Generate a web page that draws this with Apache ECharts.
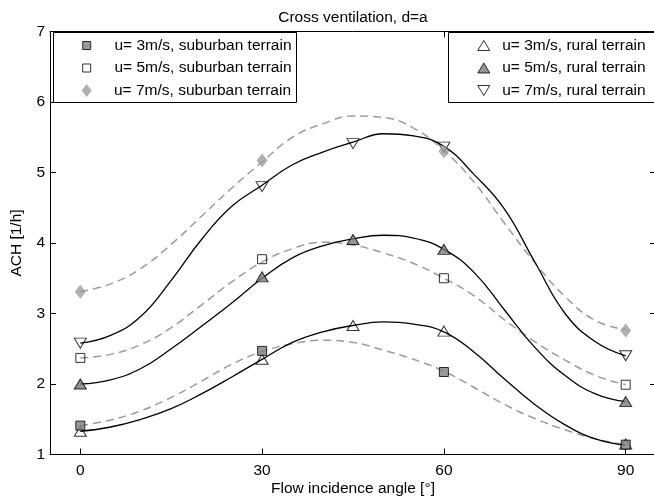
<!DOCTYPE html>
<html><head><meta charset="utf-8">
<script src="https://cdn.jsdelivr.net/npm/echarts@6/dist/echarts.min.js"></script>
<style>html,body{margin:0;padding:0;background:#fff}#c{width:654px;height:498px}</style>
</head><body><div id="c"></div>
<script>
// ---- data ----
const angleTicks = [0, 30, 60, 90];
const subAngles = [0, 30, 60, 90];
const ruralAngles = [0, 30, 45, 60, 90];
const sub3 = [1.41, 2.47, 2.17, 1.14];
const sub5 = [2.37, 3.77, 3.50, 1.99];
const sub7 = [3.31, 5.17, 5.30, 2.76];
const rur3 = [1.33, 2.35, 2.83, 2.75, 1.15];
const rur5 = [2.00, 3.52, 4.05, 3.91, 1.75];
const rur7 = [2.58, 4.80, 5.41, 5.36, 2.40];
const fitAngles = [0,5,10,15,20,25,30,35,40,45,50,55,60,65,70,75,80,85,90];
const fitSub3 = [1.41,1.49,1.62,1.81,2.04,2.28,2.46,2.57,2.62,2.59,2.48,2.35,2.18,1.95,1.71,1.51,1.35,1.22,1.14];
const fitSub5 = [2.37,2.42,2.56,2.80,3.12,3.45,3.73,3.92,4.01,3.97,3.86,3.71,3.50,3.25,2.91,2.60,2.34,2.12,1.99];
const fitSub7 = [3.31,3.42,3.64,3.98,4.38,4.78,5.15,5.50,5.69,5.80,5.78,5.63,5.31,4.86,4.28,3.72,3.24,2.90,2.77];
const fitRur3 = [1.33,1.39,1.50,1.65,1.86,2.10,2.35,2.59,2.74,2.83,2.88,2.85,2.74,2.45,2.07,1.71,1.42,1.22,1.13];
const fitRur5 = [2.00,2.06,2.22,2.50,2.82,3.15,3.50,3.79,3.96,4.06,4.11,4.07,3.91,3.58,3.05,2.52,2.12,1.86,1.75];
const fitRur7 = [2.58,2.69,2.96,3.47,4.05,4.52,4.82,5.11,5.29,5.43,5.55,5.52,5.37,4.97,4.48,3.73,3.00,2.60,2.40];
const names = [
  'u= 3m/s, suburban terrain', 'u= 5m/s, suburban terrain', 'u= 7m/s, suburban terrain',
  'u= 3m/s, rural terrain', 'u= 5m/s, rural terrain', 'u= 7m/s, rural terrain'
];
const titleText = 'Cross ventilation, d=a';
const xName = 'Flow incidence angle [°]';
const yName = 'ACH [1/h]';

// ---- build ----
const FONT = 'Liberation Sans, Arial, Helvetica, sans-serif';
const FS = 15.5;
const zip = (xs, ys) => xs.map((x, i) => [x, ys[i]]);
const GRID = {left: 50, top: 31.5, width: 606, height: 423, outerBoundsMode: 'none', containLabel: false};

const dashStyle = {color: '#9c9c9c', width: 1.5, type: [8, 5]};
const solidStyle = {color: '#000', width: 1.3, type: 'solid'};
function fitLine(id, ys, style) {
  return {type: 'line', name: id, data: zip(fitAngles, ys), smooth: 0.45, showSymbol: false,
    symbol: 'none', lineStyle: style, z: 2, silent: true, clip: true};
}
const markerDefs = [
  {name: names[0], xs: subAngles, ys: sub3, symbol: 'rect', size: [9, 9], rotate: 0,
   style: {color: '#808080', borderColor: '#000', borderWidth: 1}},
  {name: names[1], xs: subAngles, ys: sub5, symbol: 'rect', size: [9, 9], rotate: 0,
   style: {color: 'rgba(255,255,255,0)', borderColor: '#000', borderWidth: 1}},
  {name: names[2], xs: subAngles, ys: sub7, symbol: 'diamond', size: [11, 14], rotate: 0,
   style: {color: '#9c9c9c', borderColor: '#9c9c9c', borderWidth: 0}},
  {name: names[3], xs: ruralAngles, ys: rur3, symbol: 'triangle', size: [12, 10], rotate: 0,
   style: {color: 'rgba(255,255,255,0)', borderColor: '#000', borderWidth: 1}},
  {name: names[4], xs: ruralAngles, ys: rur5, symbol: 'triangle', size: [12, 10], rotate: 0,
   style: {color: '#7a7a7a', borderColor: '#000', borderWidth: 1}},
  {name: names[5], xs: ruralAngles, ys: rur7, symbol: 'triangle', size: [12, 10], rotate: 180,
   style: {color: 'rgba(255,255,255,0)', borderColor: '#000', borderWidth: 1}}
];
const scatterSeries = markerDefs.map((m, i) => ({
  type: 'scatter', name: m.name, data: zip(m.xs, m.ys), symbol: m.symbol,
  symbolSize: m.size, symbolRotate: m.rotate, itemStyle: m.style,
  z: i < 3 ? 5 : 4, silent: true
}));

const legendLayout = [
  {left: 82.2, top: 45.5, w: 8, h: 8, icon: 'rect', textLeft: 114},
  {left: 82.2, top: 68, w: 8, h: 8, icon: 'rect', textLeft: 114},
  {left: 81.7, top: 90.5, w: 10, h: 13, icon: 'diamond', textLeft: 114},
  {left: 477.3, top: 45.5, w: 12, h: 10, icon: 'triangle', textLeft: 501.7},
  {left: 477.3, top: 68, w: 12, h: 10, icon: 'triangle', textLeft: 501.7},
  {left: 477.3, top: 90.5, w: 12, h: 10, icon: 'path://M0,0L12,0L6,10Z', textLeft: 501.7}
];
const legends = legendLayout.map((L, i) => ({
  data: [names[i]], left: L.left, top: L.top - 8, padding: 0, orient: 'horizontal',
  itemWidth: L.w, itemHeight: L.h, itemGap: 0,
  icon: L.icon, selectedMode: false, symbolKeepAspect: false, z: 20,
  itemStyle: markerDefs[i].style,
  textStyle: {fontSize: FS, fontFamily: FONT, color: '#000', lineHeight: 16,
    padding: [0, 0, 0, Math.max(0, L.textLeft - L.left - L.w - 5)]}
}));

const axisLine = {show: true, onZero: false, lineStyle: {color: '#000', width: 1}};
const tickStyle = {color: '#000', width: 1};
const option = {
  animation: false,
  backgroundColor: '#fff',
  title: {text: titleText, left: 353, top: 10, padding: 0, textAlign: 'center',
    textStyle: {fontSize: FS, fontWeight: 'normal', fontFamily: FONT, color: '#000'}},
  legend: legends,
  grid: GRID,
  xAxis: [
    {type: 'value', min: -5, max: 95, position: 'bottom', axisLine,
     axisTick: {show: true, inside: true, length: 6, customValues: angleTicks, lineStyle: tickStyle},
     axisLabel: {show: true, customValues: angleTicks, color: '#000', fontSize: FS, fontFamily: FONT, margin: 8},
     splitLine: {show: false},
     name: xName, nameLocation: 'middle', nameGap: 26, nameMoveOverlap: false,
     nameTextStyle: {fontSize: FS, fontFamily: FONT, color: '#000'}},
    {type: 'value', min: -5, max: 95, position: 'top', axisLine,
     axisTick: {show: true, inside: true, length: 6, customValues: angleTicks, lineStyle: tickStyle},
     axisLabel: {show: false}, splitLine: {show: false}}
  ],
  yAxis: [
    {type: 'value', min: 1, max: 7, interval: 1, position: 'left', axisLine,
     axisTick: {show: true, inside: true, length: 6, lineStyle: tickStyle},
     axisLabel: {color: '#000', fontSize: FS, fontFamily: FONT, margin: 5},
     splitLine: {show: false},
     name: yName, nameLocation: 'middle', nameGap: 25, nameMoveOverlap: false,
     nameTextStyle: {fontSize: FS, fontFamily: FONT, color: '#000'}},
    {type: 'value', min: 1, max: 7, interval: 1, position: 'right', axisLine,
     axisTick: {show: true, inside: true, length: 6, lineStyle: tickStyle},
     axisLabel: {show: false}, splitLine: {show: false}}
  ],
  graphic: [
    {type: 'rect', shape: {x: 53.5, y: 32.5, width: 243, height: 70},
     style: {fill: '#fff', stroke: '#000', lineWidth: 1}, z: 8},
    {type: 'rect', shape: {x: 448.5, y: 32.5, width: 212, height: 70},
     style: {fill: '#fff', stroke: '#000', lineWidth: 1}, z: 8}
  ],
  series: [
    fitLine('fit s3', fitSub3, dashStyle),
    fitLine('fit s5', fitSub5, dashStyle),
    fitLine('fit s7', fitSub7, dashStyle),
    fitLine('fit r3', fitRur3, solidStyle),
    fitLine('fit r5', fitRur5, solidStyle),
    fitLine('fit r7', fitRur7, solidStyle)
  ].concat(scatterSeries.slice(3), scatterSeries.slice(0, 3))
};
const chart = echarts.init(document.getElementById('c'), null, {renderer: 'canvas'});
chart.setOption(option);
</script></body></html>
